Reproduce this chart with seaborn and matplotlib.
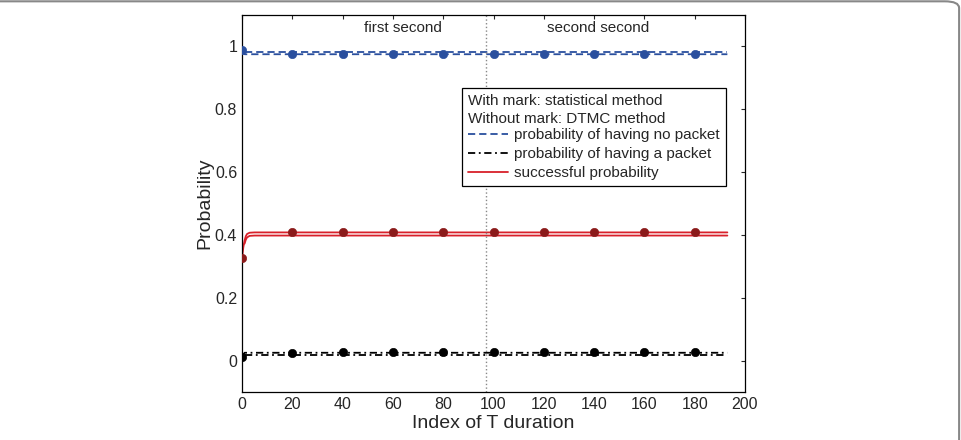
import numpy as np
import pandas as pd
import matplotlib.pyplot as plt
import seaborn as sns
from matplotlib.lines import Line2D
from matplotlib.patches import FancyBboxPatch
from matplotlib.ticker import FormatStrFormatter

# marker positions (statistical method)
mark_x = [0, 20, 40, 60, 80, 100, 120, 140, 160, 180]
mark_none = [0.987, 0.975, 0.975, 0.975, 0.975, 0.975, 0.975, 0.975, 0.975, 0.975]
mark_succ = [0.325, 0.408, 0.408, 0.408, 0.408, 0.408, 0.408, 0.408, 0.408, 0.408]
mark_pkt = [0.012, 0.025, 0.028, 0.027, 0.026, 0.026, 0.026, 0.027, 0.028, 0.027]

# line curves
stat_x = [0, 1, 193]
stat_none = [0.987, 0.975, 0.975]
stat_pkt = [0.012, 0.025, 0.025]
succ_x = [0, 0.5, 1, 1.5, 2, 3, 5, 193]
stat_succ = [0.325, 0.36, 0.382, 0.396, 0.403, 0.407, 0.408, 0.408]
dtmc_x = [1, 193]
dtmc_none = [0.982, 0.982]
dtmc_pkt = [0.019, 0.019]
dtmc_succ_x = [1, 1.5, 2, 3, 5, 193]
dtmc_succ = [0.372, 0.385, 0.392, 0.397, 0.398, 0.398]

blue = '#2a4f9e'
red = '#d8202a'
dark_red = '#8b1a1a'

sns.set_style('white')
plt.rcParams['font.family'] = ['Liberation Sans', 'DejaVu Sans']

fig = plt.figure(figsize=(9.62, 4.4), dpi=100)
ax = fig.add_axes([0.2516, 0.109, 0.5228, 0.857])

dash = (4, 2.2)
dashdot = (4, 2, 1, 2)

sns.lineplot(x=stat_x, y=stat_none, color=blue, lw=1.3, ax=ax).lines[-1].set_dashes(dash)
sns.lineplot(x=dtmc_x, y=dtmc_none, color=blue, lw=1.3, ax=ax).lines[-1].set_dashes(dash)
sns.lineplot(x=stat_x, y=stat_pkt, color='black', lw=1.3, ax=ax).lines[-1].set_dashes(dashdot)
sns.lineplot(x=dtmc_x, y=dtmc_pkt, color='black', lw=1.3, ax=ax).lines[-1].set_dashes(dashdot)
sns.lineplot(x=succ_x, y=stat_succ, color=red, lw=1.3, ax=ax)
sns.lineplot(x=dtmc_succ_x, y=dtmc_succ, color=red, lw=1.3, ax=ax)

sns.scatterplot(x=mark_x, y=mark_none, color=blue, s=36, edgecolor=blue, zorder=5, ax=ax)
sns.scatterplot(x=mark_x, y=mark_succ, color=dark_red, s=36, edgecolor=dark_red, zorder=5, ax=ax)
sns.scatterplot(x=mark_x, y=mark_pkt, color='black', s=36, edgecolor='black', zorder=5, ax=ax)

ax.axvline(97, color='#888888', ls=':', lw=1)
ax.text(48.5, 1.057, 'first second', ha='left', va='center', fontsize=11)
ax.text(141.5, 1.057, 'second second', ha='center', va='center', fontsize=11)

ax.set_xlim(0, 200)
ax.set_ylim(-0.1, 1.1)
ax.set_xticks(range(0, 201, 20))
ax.set_yticks([0, 0.2, 0.4, 0.6, 0.8, 1])
ax.yaxis.set_major_formatter(FormatStrFormatter('%g'))
ax.tick_params(direction='in', top=True, right=True, labelsize=11.5, length=3, width=0.8)
for s in ax.spines.values():
    s.set_color('black')
    s.set_linewidth(0.9)
ax.set_xlabel('Index of T duration', fontsize=14, labelpad=2)
ax.set_ylabel('Probability', fontsize=14, labelpad=1)

handles = [
    Line2D([], [], color=blue, lw=1.3, dashes=dash),
    Line2D([], [], color='black', lw=1.3, dashes=dashdot),
    Line2D([], [], color=red, lw=1.3),
]
labels = ['probability of having no packet', 'probability of having a packet',
          'successful probability']
leg = ax.legend(handles, labels, title='With mark: statistical method\nWithout mark: DTMC method',
                alignment='left', loc='upper left', bbox_to_anchor=(0.437, 0.806),
                fontsize=11, title_fontsize=11, frameon=True, fancybox=False,
                edgecolor='black', framealpha=1, handlelength=2.6, handletextpad=0.4,
                labelspacing=0.33, borderpad=0.4, borderaxespad=0)
leg.get_frame().set_linewidth(0.9)
leg._legend_box.sep = 2
leg.get_title().set_linespacing(1.3)

# page frame (top and right edges visible)
frame = FancyBboxPatch((-0.5, -0.5), 1.497, 1.497, boxstyle='round,pad=0,rounding_size=0.015',
                       transform=fig.transFigure, fill=False, edgecolor='#888888', lw=1.5,
                       clip_on=False)
fig.patches.append(frame)

fig.savefig('out.png', dpi=100)
